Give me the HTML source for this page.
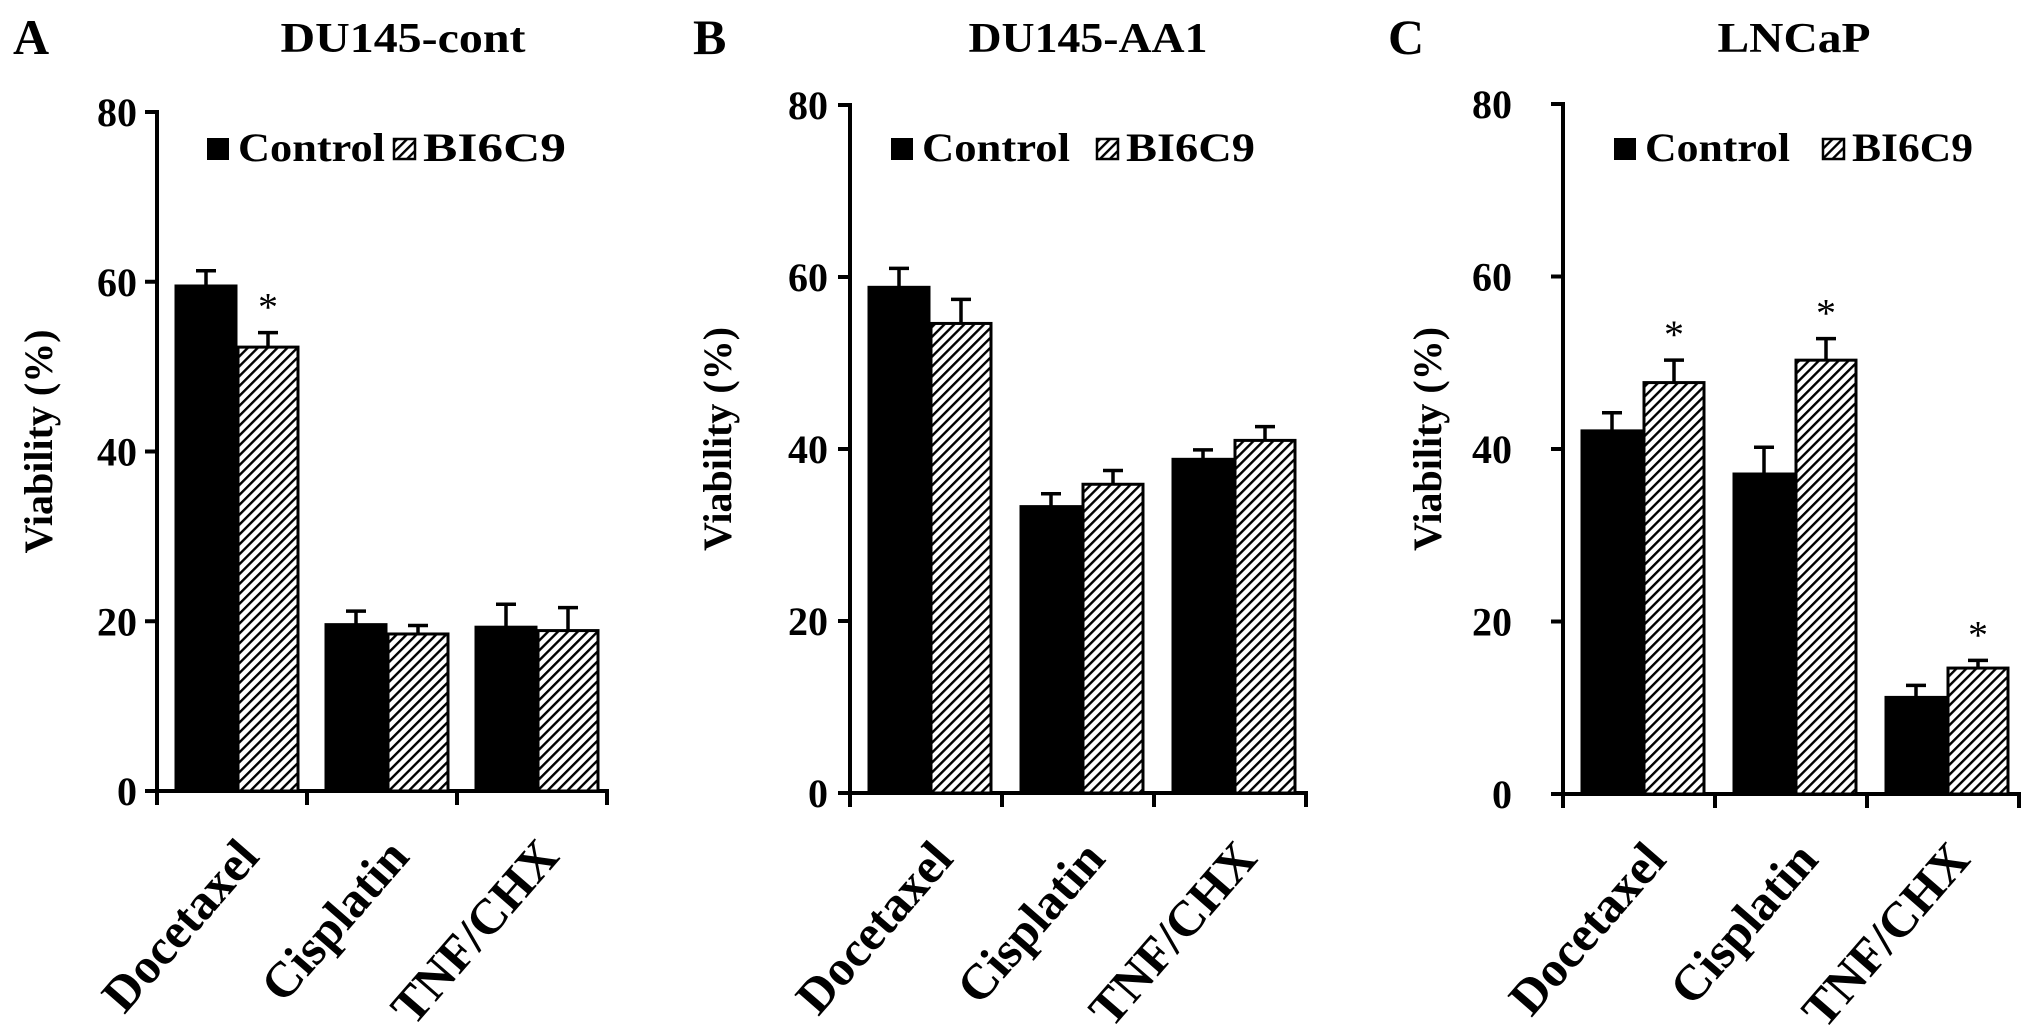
<!DOCTYPE html>
<html><head><meta charset="utf-8"><style>
html,body{margin:0;padding:0;background:#fff;}
svg{display:block;font-family:"Liberation Serif",serif;font-weight:bold;}
</style></head><body>
<svg id="fig" width="2031" height="1026" viewBox="0 0 2031 1026" xmlns="http://www.w3.org/2000/svg">
<defs>
<pattern id="hatch" patternUnits="userSpaceOnUse" width="7" height="7" patternTransform="rotate(45)">
<rect width="7" height="7" fill="#fff"/><rect x="0" y="0" width="2.4" height="7" fill="#000"/>
</pattern>
</defs>
<g id="root"></g>
</svg>
<script>
const categories = ["Docetaxel", "Cisplatin", "TNF/CHX"];
const yTicks = [0, 20, 40, 60, 80];
const panelLetters = ["A", "B", "C"];
const panelTitles = ["DU145-cont", "DU145-AA1", "LNCaP"];
const controlA = [59.5, 19.6, 19.3];
const controlErrA = [1.8, 1.6, 2.7];
const bi6c9A = [52.3, 18.5, 18.9];
const bi6c9ErrA = [1.7, 1.0, 2.7];
const starsA = [false, true, false, false, false, false];
const controlB = [58.8, 33.3, 38.8];
const controlErrB = [2.2, 1.5, 1.1];
const bi6c9B = [54.6, 35.9, 41.0];
const bi6c9ErrB = [2.8, 1.6, 1.6];
const starsB = [false, false, false, false, false, false];
const controlC = [42.1, 37.1, 11.2];
const controlErrC = [2.1, 3.1, 1.4];
const bi6c9C = [47.7, 50.3, 14.6];
const bi6c9ErrC = [2.6, 2.5, 0.9];
const starsC = [false, true, false, true, false, true];

const NS = "http://www.w3.org/2000/svg";
const root = document.getElementById("root");
function mk(tag, attrs, parent, text) {
  const e = document.createElementNS(NS, tag);
  for (const k in attrs) e.setAttribute(k, attrs[k]);
  if (text !== undefined) e.textContent = text;
  (parent || root).appendChild(e);
  return e;
}

const layouts = [
  {x0:157, cw:150, y0:791, y80:112, letterX:13, titleX:403, titleW:245, legX:207, legCW:147, legHX:394, legBW:143, yTitleX:52, tickLabelR:137},
  {x0:850, cw:152, y0:793, y80:105, letterX:693, titleX:1088, titleW:239, legX:891, legCW:148, legHX:1097, legBW:129, yTitleX:731, tickLabelR:828},
  {x0:1563, cw:152, y0:794, y80:104, letterX:1388, titleX:1794, titleW:153, legX:1614, legCW:145, legHX:1823, legBW:121, yTitleX:1441, tickLabelR:1512}
];
const panelData = [
  [controlA, controlErrA, bi6c9A, bi6c9ErrA, starsA],
  [controlB, controlErrB, bi6c9B, bi6c9ErrB, starsB],
  [controlC, controlErrC, bi6c9C, bi6c9ErrC, starsC]
];

layouts.forEach((L, p) => {
  const g = mk("g", {}, root);
  
  
  const yS = v => L.y0 - (L.y0 - L.y80) * v / 80;
  const xEnd = L.x0 + L.cw * categories.length;

  const letter = mk("text", {x: L.letterX, y: 54, "font-size": 50}, g, panelLetters[p]);
  
  
  const title = mk("text", {x: L.titleX, y: 52, "font-size": 42, "text-anchor": "middle", textLength: L.titleW, lengthAdjust: "spacingAndGlyphs"}, g, panelTitles[p]);
  
  

  const yt = mk("text", {x: 0, y: 0, "font-size": 40, "text-anchor": "middle", transform: `translate(${L.yTitleX},${(L.y0 + L.y80) / 2 - 10}) rotate(-90)`}, g, "Viability (%)");
  
  

  const ya = mk("line", {x1: L.x0, y1: L.y80 - 2, x2: L.x0, y2: L.y0 + 2, stroke: "#000", "stroke-width": 4}, g);
  
  
  yTicks.forEach(t => {
    const ty = yS(t);
    const tk = mk("line", {x1: L.x0 - 12, y1: ty, x2: L.x0, y2: ty, stroke: "#000", "stroke-width": 4}, g);
    
    
    const tl = mk("text", {x: L.tickLabelR, y: ty + 14, "font-size": 40, "text-anchor": "end"}, g, String(t));
    
    
  });
  const xa = mk("line", {x1: L.x0 - 12, y1: L.y0, x2: xEnd + 2, y2: L.y0, stroke: "#000", "stroke-width": 4}, g);
  
  
  for (let i = 0; i <= categories.length; i++) {
    const tx = L.x0 + i * L.cw;
    const tk = mk("line", {x1: tx, y1: L.y0, x2: tx, y2: L.y0 + 14, stroke: "#000", "stroke-width": 4}, g);
    
    
  }

  const [ctl, ctlE, bi, biE, stars] = panelData[p];
  const bw = 60, off = 19;
  categories.forEach((c, i) => {
    const cx0 = L.x0 + i * L.cw + off;
    [[ctl, ctlE, "#000", "control"], [bi, biE, "url(#hatch)", "bi6c9"]].forEach((s, k) => {
      const bx = cx0 + k * (bw + 2);
      const top = yS(s[0][i]);
      const bar = mk("rect", {x: bx, y: top, width: bw, height: L.y0 - top, fill: s[2], stroke: "#000", "stroke-width": 3}, g);
      
      
      const et = yS(s[0][i] + s[1][i]);
      const mx = bx + bw / 2;
      const eb = mk("path", {d: `M${mx},${top} V${et} M${mx - 10},${et} H${mx + 10}`, stroke: "#000", "stroke-width": 3.5, fill: "none"}, g);
      
      
      if (stars[i * 2 + k]) {
        const st = mk("text", {x: mx, y: et - 12, "font-size": 40, "font-weight": "normal", "text-anchor": "middle"}, g, "*");
        
        
      }
    });
    const lx = L.x0 + (i + 0.5) * L.cw + 29;
    const xl = mk("text", {x: 0, y: 0, "font-size": 50, "text-anchor": "end", transform: `translate(${lx},${L.y0 + 67}) rotate(-49)`}, g, c);
    
    
  });

  const lg = mk("g", {}, g);
  
  
  const ls1 = mk("rect", {x: L.legX, y: 138, width: 22, height: 22, fill: "#000"}, lg);
  
  
  const lt1 = mk("text", {x: L.legX + 31, y: 161, "font-size": 40, textLength: L.legCW, lengthAdjust: "spacingAndGlyphs"}, lg, "Control");
  
  
  const ls2 = mk("rect", {x: L.legHX, y: 139, width: 21, height: 20, fill: "url(#hatch)", stroke: "#000", "stroke-width": 2.5}, lg);
  
  
  const lt2 = mk("text", {x: L.legHX + 29, y: 161, "font-size": 40, textLength: L.legBW, lengthAdjust: "spacingAndGlyphs"}, lg, "BI6C9");
  
  
});
</script>
</body></html>
